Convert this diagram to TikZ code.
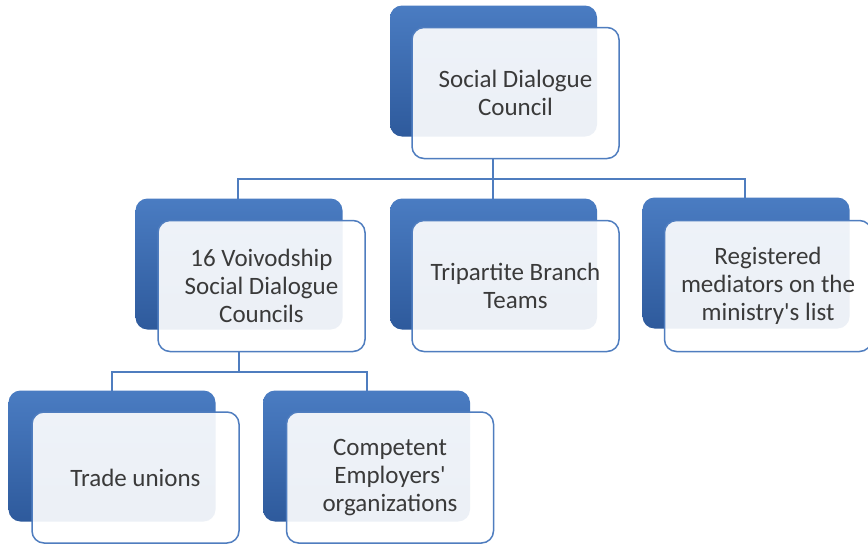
\documentclass[tikz,border=0pt]{standalone}
\usepackage{fontspec}
\setmainfont{Carlito}
\usetikzlibrary{positioning}
\definecolor{backblue}{HTML}{4A7CC2}
\definecolor{backdark}{HTML}{2E5A9C}
\definecolor{edgeblue}{HTML}{4F7DBF}
\definecolor{txt}{HTML}{3A3A3A}
\tikzset{
  backbox/.style={rounded corners=12pt, top color=backblue, bottom color=backdark, draw=none,
    minimum width=207pt, minimum height=131pt, inner sep=0pt},
  frontbox/.style={rounded corners=12pt, fill=white, fill opacity=0.91, draw=edgeblue, line width=1.5pt,
    minimum width=207pt, minimum height=131pt, inner sep=0pt},
  lbl/.style={align=center, text=txt, font=\fontsize{25}{28}\selectfont},
  conn/.style={draw=edgeblue, line width=2pt}
}
\begin{document}
\begin{tikzpicture}[x=1pt,y=-1pt]
\useasboundingbox (0,0) rectangle (868,546);
\fill[white] (0,0) rectangle (868,546);
% connectors
\coordinate (h1l) at (238,179);
\coordinate (h1m) at (493,179);
\coordinate (h1r) at (745,179);
\coordinate (h2l) at (112,372);
\coordinate (h2m) at (239,372);
\coordinate (h2r) at (367,372);
\draw[conn] (493,158) -- (h1m);
\draw[conn] (238,199) -- (h1l) -- (h1r) -- (745,199);
\draw[conn] (h1m) -- (493,199);
\draw[conn] (239,352) -- (h2m);
\draw[conn] (112,391) -- (h2l) -- (h2r) -- (367,391);
% top
\node[backbox] (b1) at (493.5,71) {};
\node[frontbox] (f1) at (515.5,93) {};
\node[lbl] (t1) at (f1) {Social Dialogue\\Council};
% row 2
\node[backbox] (b2) at (239,264) {};
\node[frontbox] (f2) at (261.5,286) {};
\node[lbl] (t2) at (f2) {16 Voivodship\\Social Dialogue\\Councils};
\node[backbox] (b3) at (493.5,264) {};
\node[frontbox] (f3) at (515.5,286) {};
\node[lbl] (t3) at (f3) {Tripartite Branch\\Teams};
\node[backbox] (b4) at (746,263) {};
\node[frontbox] (f4) at (768,286) {};
\node[lbl] (t4) at (f4) {Registered\\mediators on the\\ministry\textquotesingle s list};
% row 3
\node[backbox] (b5) at (112,456) {};
\node[frontbox] (f5) at (135.5,477.5) {};
\node[lbl] (t5) at (f5) {Trade unions};
\node[backbox] (b6) at (366.5,456) {};
\node[frontbox] (f6) at (390,477.5) {};
\node[lbl] (t6) at (f6) {Competent\\Employers\textquotesingle\\organizations};
\end{tikzpicture}
\end{document}
